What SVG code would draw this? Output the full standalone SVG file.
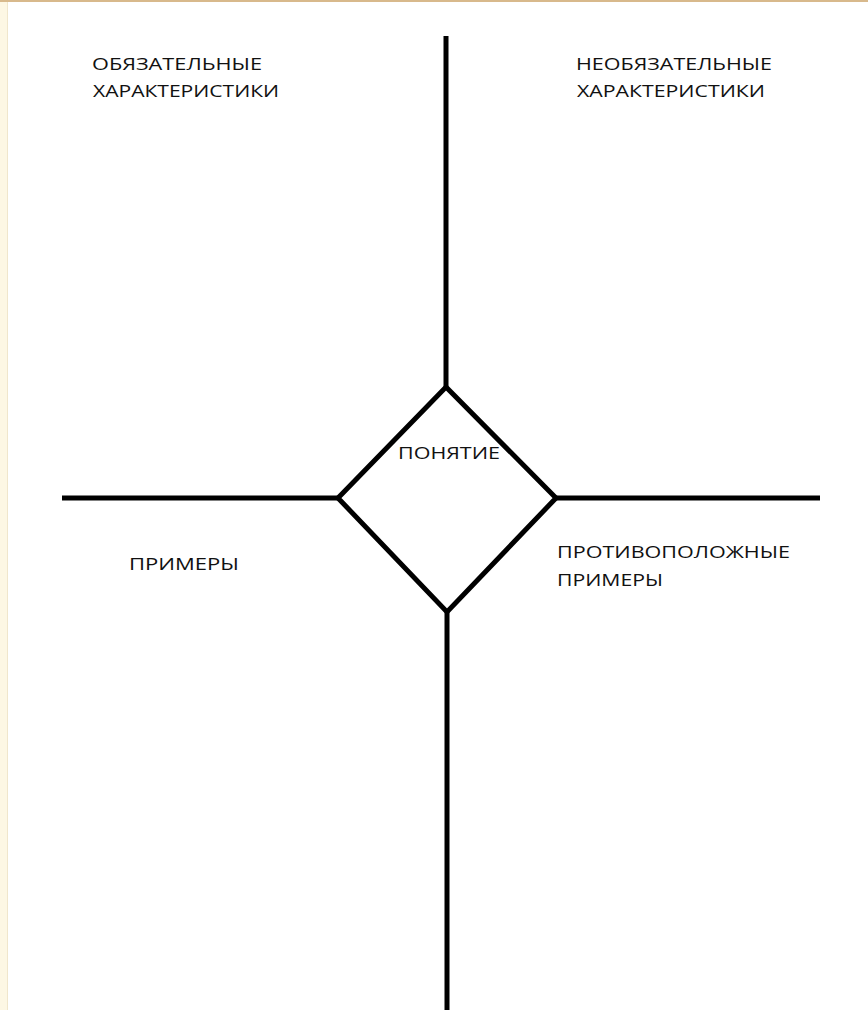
<svg xmlns="http://www.w3.org/2000/svg" width="868" height="1010" viewBox="0 0 868 1010">
<style>
.ln{stroke:#000;stroke-width:5;fill:none;stroke-linecap:butt}
.lbl{font-family:"Open Sans","Liberation Sans",sans-serif;font-size:17px;fill:#111111}
</style>
<rect x="0" y="0" width="868" height="1010" fill="#ffffff"/>
<rect x="0" y="0" width="7" height="1010" fill="#fdf7e4"/>
<line x1="7.5" y1="2" x2="7.5" y2="1010" stroke="#f0e6cc" stroke-width="1"/>
<rect x="0" y="0" width="868" height="2" fill="#d8b98c"/>
<g id="connectors">
<line class="ln" x1="446" y1="36" x2="446" y2="387"/>
<line class="ln" x1="62" y1="498" x2="338" y2="498"/>
<line class="ln" x1="556" y1="498" x2="820" y2="498"/>
<line class="ln" x1="447" y1="612" x2="447" y2="1010"/>
</g>
<g id="concept">
<polygon class="ln" points="446,387 556,498 447,612 338,498" stroke-linejoin="miter"/>
<text class="lbl" x="398" y="459" textLength="102" lengthAdjust="spacingAndGlyphs">ПОНЯТИЕ</text>
</g>
<g id="required">
<text class="lbl" x="92" y="70" textLength="170" lengthAdjust="spacingAndGlyphs">ОБЯЗАТЕЛЬНЫЕ</text>
<text class="lbl" x="93" y="97" textLength="186" lengthAdjust="spacingAndGlyphs">ХАРАКТЕРИСТИКИ</text>
</g>
<g id="optional">
<text class="lbl" x="576" y="70" textLength="196" lengthAdjust="spacingAndGlyphs">НЕОБЯЗАТЕЛЬНЫЕ</text>
<text class="lbl" x="577" y="97" textLength="188" lengthAdjust="spacingAndGlyphs">ХАРАКТЕРИСТИКИ</text>
</g>
<g id="examples">
<text class="lbl" x="129" y="570" textLength="110" lengthAdjust="spacingAndGlyphs">ПРИМЕРЫ</text>
</g>
<g id="counterexamples">
<text class="lbl" x="557" y="558" textLength="233" lengthAdjust="spacingAndGlyphs">ПРОТИВОПОЛОЖНЫЕ</text>
<text class="lbl" x="557" y="586" textLength="106" lengthAdjust="spacingAndGlyphs">ПРИМЕРЫ</text>
</g>
</svg>
